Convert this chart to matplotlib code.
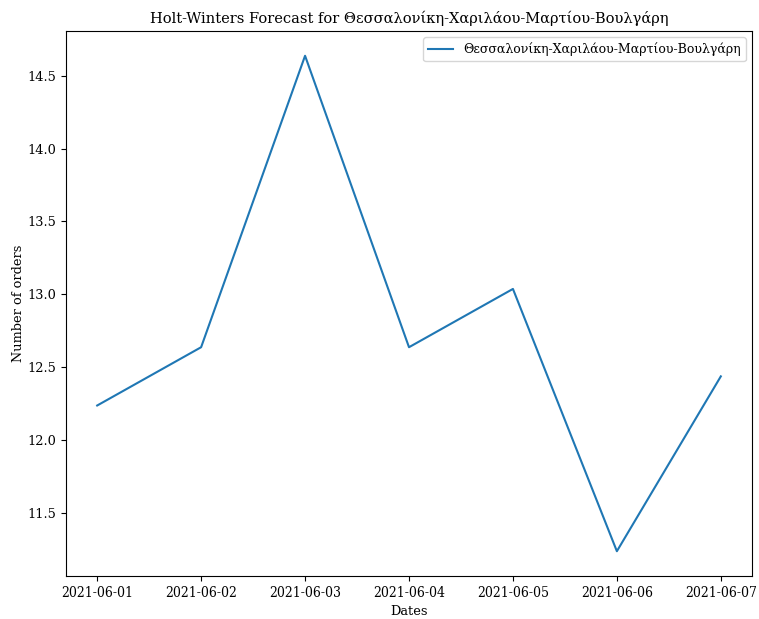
import matplotlib
matplotlib.use("Agg")
import matplotlib.pyplot as plt
import matplotlib.dates as mdates
import pandas as pd

plt.rcParams['font.family'] = ['DejaVu Serif']

dates = ["2021-06-01", "2021-06-02", "2021-06-03", "2021-06-04",
         "2021-06-05", "2021-06-06", "2021-06-07"]
orders = [12.237, 12.637, 14.637, 12.637, 13.037, 11.237, 12.437]
store = "Θεσσαλονίκη-Χαριλάου-Μαρτίου-Βουλγάρη"

x = pd.to_datetime(dates)

fig = plt.figure(figsize=(7.59, 6.19), dpi=100)
ax = fig.add_axes([66/759, 1-576/619, (752-66)/759, (576-31)/619])
ax.plot(x, orders, color="#1f77b4", label=store)
ax.set_title(f"Holt-Winters Forecast for {store}", fontsize=10.5)
ax.set_xlabel("Dates", fontsize=9.3)
ax.set_ylabel("Number of orders", fontsize=9.3, labelpad=2)
ax.xaxis.set_major_locator(mdates.DayLocator())
ax.xaxis.set_major_formatter(mdates.DateFormatter("%Y-%m-%d"))
ax.tick_params(axis="y", labelsize=9.3)
ax.tick_params(axis="x", labelsize=10)
for lbl in ax.get_xticklabels():
    lbl.set_fontstretch("condensed")
ax.legend(loc="upper right", fontsize=9)
fig.savefig("out.png", dpi=100)
